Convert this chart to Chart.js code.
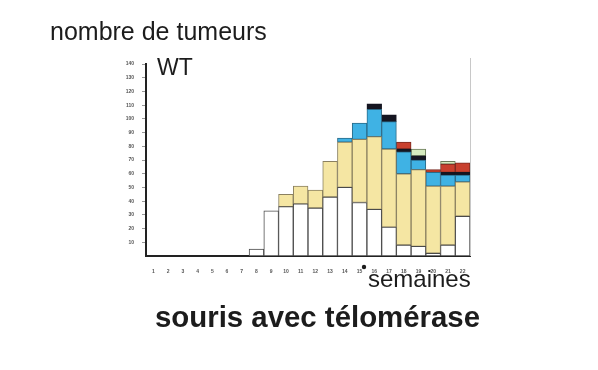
<!DOCTYPE html>
<html>
<head>
<meta charset="utf-8">
<script src="https://cdn.jsdelivr.net/npm/chart.js@4"></script>
<style>
  html, body { margin: 0; padding: 0; background: #fff; }
  #wrap { width: 598px; height: 370px; }
</style>
</head>
<body>
<div id="wrap"><canvas id="chart-area" width="598" height="370"></canvas></div>
<script>
// semaines 1..22
var weeks = ['1','2','3','4','5','6','7','8','9','10','11','12','13','14','15','16','17','18','19','20','21','22'];
var yTicks = [10,20,30,40,50,60,70,80,90,100,110,120,130,140];

// tumeurs par type (empilées, du bas vers le haut)
var white  = [0,0,0,0,0,0,0, 5,33,36,38,35,43,50,39,34,21, 8, 7, 2, 8,29];
var yellow = [0,0,0,0,0,0,0, 0, 0, 9,13,13,26,33,46,53,57,52,56,49,43,25];
var blue   = [0,0,0,0,0,0,0, 0, 0, 0, 0, 0, 0, 3,12,20,20,16, 7,10, 8, 5];
var black  = [0,0,0,0,0,0,0, 0, 0, 0, 0, 0, 0, 0, 0, 4, 5, 2, 3, 0, 2, 2];
var red    = [0,0,0,0,0,0,0, 0, 0, 0, 0, 0, 0, 0, 0, 0, 0, 5, 0, 2, 6, 7];
var green  = [0,0,0,0,0,0,0, 0, 0, 0, 0, 0, 0, 0, 0, 0, 0, 0, 5, 0, 2, 0];

function seg(arr, color, border) {
  return {
    data: arr.map(function (v) { return v === 0 ? null : v; }),
    backgroundColor: color,
    borderColor: border,
    borderWidth: 1,
    borderSkipped: false
  };
}

var textPlugin = {
  id: 'texts',
  beforeDatasetsDraw: function (chart) {
    var ctx = chart.ctx;
    ctx.save();
    ctx.strokeStyle = '#c8c8c8';
    ctx.lineWidth = 1;
    ctx.beginPath();
    ctx.moveTo(470.5, 58);
    ctx.lineTo(470.5, 256);
    ctx.stroke();
    ctx.restore();
  },
  afterDraw: function (chart) {
    var ctx = chart.ctx;
    ctx.save();
    ctx.fillStyle = '#1c1c1c';
    ctx.textBaseline = 'alphabetic';
    ctx.textAlign = 'left';
    ctx.font = '25px "Liberation Sans", Arial, sans-serif';
    ctx.fillText('nombre de tumeurs', 50, 40, 220);
    ctx.font = '23px "Liberation Sans", Arial, sans-serif';
    ctx.fillText('WT', 157, 75);
    ctx.font = '24px "Liberation Sans", Arial, sans-serif';
    ctx.fillText('semaines', 368, 287, 103);
    ctx.beginPath();
    ctx.arc(364, 267, 2.2, 0, Math.PI * 2);
    ctx.fill();
    ctx.font = 'bold 30px "Liberation Sans", Arial, sans-serif';
    ctx.fillText('souris avec télomérase', 155, 327, 325);
    ctx.restore();
  }
};

var config = {
  type: 'bar',
  data: {
    labels: weeks,
    datasets: [
      seg(white,  '#ffffff', '#4a4a4a'),
      seg(yellow, '#f5e6a3', '#8a8060'),
      seg(blue,   '#3fb2e4', '#2a6a88'),
      seg(black,  '#151520', '#151520'),
      seg(red,    '#c8402e', '#7a2a20'),
      seg(green,  '#d6ebc0', '#6a7a5a')
    ]
  },
  options: {
    responsive: false,
    animation: false,
    layout: { padding: { top: 64, right: 128, left: 0, bottom: 0 } },
    plugins: {
      legend: { display: false },
      tooltip: { enabled: false }
    },
    datasets: {
      bar: { categoryPercentage: 1, barPercentage: 1 }
    },
    scales: {
      x: {
        stacked: true,
        afterFit: function (s) { s.height = 114; },
        grid: { display: false },
        border: { display: true, color: '#222', width: 2 },
        ticks: {
          autoSkip: false,
          maxRotation: 0,
          padding: 5,
          color: '#555',
          font: { size: 5, weight: 'bold' }
        }
      },
      y: {
        stacked: true,
        min: 0,
        max: 140,
        afterFit: function (s) { s.width = 146; },
        afterBuildTicks: function (s) {
          s.ticks = yTicks.map(function (v) { return { value: v }; });
        },
        grid: { drawOnChartArea: false, drawTicks: true, tickLength: 4, color: '#999' },
        border: { display: true, color: '#222', width: 2 },
        ticks: {
          padding: 8,
          color: '#555',
          font: { size: 5, weight: 'bold' }
        }
      }
    }
  },
  plugins: [textPlugin]
};

window.onload = function () {
  var ctx = document.getElementById('chart-area').getContext('2d');
  window.myBars = new Chart(ctx, config);
};
</script>
</body>
</html>
